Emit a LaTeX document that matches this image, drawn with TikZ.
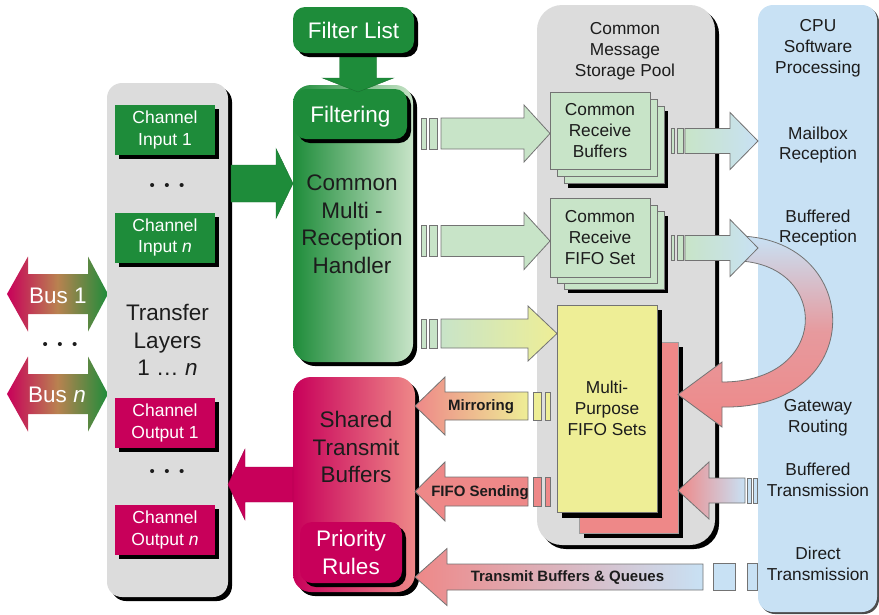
\documentclass[tikz,border=0pt]{standalone}
\usepackage{fontspec}
\setmainfont{Liberation Sans}
\usetikzlibrary{calc,shadows}

\definecolor{dgreen}{RGB}{30,140,58}
\definecolor{pgreen}{RGB}{200,228,200}
\definecolor{magen}{RGB}{200,0,90}
\definecolor{salmon}{RGB}{238,136,136}
\definecolor{pyellow}{RGB}{238,238,150}
\definecolor{pblue}{RGB}{200,225,244}
\definecolor{panelgray}{RGB}{220,220,220}
\definecolor{edgegray}{RGB}{115,115,115}
\definecolor{ink}{RGB}{28,28,28}
\definecolor{busmid}{RGB}{185,130,80}

% block arrows: style, tail, tip, half shaft width, half head width, head length
\newcommand{\arrowR}[6]{%
  \path[#1] let \p1=#2, \p2=#3 in
    (\x1,\y1-#4) -- (\x2-#6,\y1-#4) -- (\x2-#6,\y1-#5) -- (\x2,\y1)
    -- (\x2-#6,\y1+#5) -- (\x2-#6,\y1+#4) -- (\x1,\y1+#4) -- cycle;}
\newcommand{\arrowL}[6]{%
  \path[#1] let \p1=#2, \p2=#3 in
    (\x1,\y1-#4) -- (\x2+#6,\y1-#4) -- (\x2+#6,\y1-#5) -- (\x2,\y1)
    -- (\x2+#6,\y1+#5) -- (\x2+#6,\y1+#4) -- (\x1,\y1+#4) -- cycle;}
\newcommand{\arrowD}[6]{%
  \path[#1] let \p1=#2, \p2=#3 in
    (\x1-#4,\y1) -- (\x1-#4,\y2+#6) -- (\x1-#5,\y2+#6) -- (\x1,\y2)
    -- (\x1+#5,\y2+#6) -- (\x1+#4,\y2+#6) -- (\x1+#4,\y1) -- cycle;}

\begin{document}
\begin{tikzpicture}[x=1pt,y=-1pt,
  every node/.style={inner sep=0pt,outer sep=0pt,text=ink},
  shd/.style={drop shadow={shadow xshift=4pt,shadow yshift=-4pt,fill=black,opacity=1}},
  panel/.style={fill=panelgray,rounded corners=#1,shd},
  big/.style={font=\fontsize{22.5}{27.5}\selectfont,align=center},
  mid/.style={font=\fontsize{17.3}{20.8}\selectfont,align=center},
  chan/.style={font=\fontsize{17.5}{21.5}\selectfont,align=center},
  lbl/.style={font=\bfseries\fontsize{15}{18}\selectfont},
  chbox/.style={fill=#1,minimum width=100,minimum height=50,shd,text=white,chan},
  dotrow/.style={font=\fontsize{15}{15}\selectfont},
  stk/.style={fill=pgreen,draw=edgegray,line width=0.8pt},
  parrow/.style={draw=edgegray,line width=0.8pt},
  busarr/.style={left color=magen,right color=dgreen,middle color=busmid},
  bigarrow/.style={line width=0.4pt}]

\path[use as bounding box] (0,0) rectangle (879,614);

% ---- buses ----
\coordinate (b1) at (57.5,294);
\coordinate (bn) at (57.5,394);
\path[busarr,shift={(b1)}] (-50.5,0) -- (-29.5,-37.5) -- (-29.5,-20) -- (30.5,-20) -- (30.5,-37.5)
  -- (50.5,0) -- (30.5,37.5) -- (30.5,20) -- (-29.5,20) -- (-29.5,37.5) -- cycle;
\path[busarr,shift={(bn)}] (-50.5,0) -- (-29.5,-37.5) -- (-29.5,-20) -- (30.5,-20) -- (30.5,-37.5)
  -- (50.5,0) -- (30.5,37.5) -- (30.5,20) -- (-29.5,20) -- (-29.5,37.5) -- cycle;
\node[big,text=white] (bus1) at (58,295.5) {Bus 1};
\node[big,text=white] (busn) at (57,395) {Bus \textit{n}};
\node[dotrow] (busdots) at (60,346) {\textbullet\hspace{9.5pt}\textbullet\hspace{9.5pt}\textbullet};

% ---- transfer layers ----
\node[panel=15pt,minimum width=121,minimum height=514,big] (trans) at (167.5,340)
  {Transfer\\Layers\\1 … \textit{n}};
\node[chbox=dgreen] (cin1) at (165,130) {Channel\\Input 1};
\node[dotrow] (indots) at (167,187) {\textbullet\hspace{9.5pt}\textbullet\hspace{9.5pt}\textbullet};
\node[chbox=dgreen] (cinn) at (165,237.5) {Channel\\Input \textit{n}};
\node[chbox=magen] (cout1) at (165,423) {Channel\\Output 1};
\node[dotrow] (outdots) at (167,473) {\textbullet\hspace{9.5pt}\textbullet\hspace{9.5pt}\textbullet};
\node[chbox=magen] (coutn) at (165,530) {Channel\\Output \textit{n}};

% ---- storage pool and CPU panels ----
\node[panel=25pt,minimum width=178,minimum height=540] (pool) at (626,275) {};
\node[mid] (pooltxt) at (625,51) {Common\\Message\\Storage Pool};
\node[fill=pblue,rounded corners=15pt,minimum width=119,minimum height=607,
  drop shadow={shadow xshift=2pt,shadow yshift=-2pt,fill=black!70,opacity=1}] (cpu) at (817.5,308.5) {};

% ---- handler ----
\node[left color=dgreen,right color=pgreen,rounded corners=18pt,minimum width=120,minimum height=277,shd] (hdl) at (353,223.5) {};
\node[big] (hdltxt) at (352,224) {Common\\Multi -\\Reception\\Handler};
\node[fill=dgreen,rounded corners=12pt,minimum width=113,minimum height=50,shd,text=white,big,text depth=0pt] (filt) at (350.5,114) {Filtering};
\arrowD{fill=dgreen,draw=dgreen!80!black,bigarrow}{([xshift=5pt,yshift=35pt]hdl.north)}{([xshift=5pt,yshift=-7pt]hdl.north)}{18.5pt}{35.5pt}{14pt}
\node[fill=dgreen,rounded corners=12pt,minimum width=121,minimum height=46,shd,text=white,big,text depth=0pt] (flist) at (353.5,30) {Filter List};

% ---- shared transmit buffers ----
\node[left color=magen,right color=salmon,rounded corners=18pt,minimum width=122,minimum height=215,shd] (stb) at (354,484.5) {};
\node[big] (stbtxt) at (356,447) {Shared\\Transmit\\Buffers};
\node[fill=magen,rounded corners=12pt,minimum width=102,minimum height=61,shd,text=white,big] (prio) at (351,552.5) {Priority\\Rules};

% ---- big arrows between transfer layers and handlers ----
\arrowR{fill=dgreen,draw=dgreen!80!black,bigarrow}{(231,183.5)}{(hdl.west)}{18.5pt}{35pt}{17pt}
\arrowL{fill=magen,draw=magen!80!black,bigarrow}{(293,484.5)}{(trans.east)}{17.5pt}{35.5pt}{17pt}

% ---- receive buffers (stacked) ----
\fill[black] (568,111) rectangle (668,188);
\draw[stk] (564,106) rectangle (664,183);
\draw[stk] (557,99) rectangle (657,176);
\node[stk,minimum width=100,minimum height=77,mid] (crb) at (600,130.5) {Common\\Receive\\Buffers};

\fill[black] (568,216) rectangle (668,293);
\draw[stk] (564,211) rectangle (664,289);
\draw[stk] (557,205) rectangle (657,283);
\node[stk,minimum width=100,minimum height=79,mid] (crf) at (600,237.5) {Common\\Receive\\FIFO Set};

% ---- multi-purpose FIFO sets ----
\fill[black] (584,347) rectangle (683,538);
\node[fill=salmon,draw=edgegray!70,line width=0.6pt,minimum width=99,minimum height=191] (mps) at (628.5,437.5) {};
\fill[black] (562,310) rectangle (662,518);
\node[fill=pyellow,draw=edgegray,line width=0.6pt,minimum width=100,minimum height=207,mid] (mpy) at (607,408.5) {Multi-\\Purpose\\FIFO Sets};

% ---- arrows from the handler ----
\draw[parrow,fill=pgreen] (421,118) rectangle (426,149);
\draw[parrow,fill=pgreen] (429,118) rectangle (437,149);
\arrowR{parrow,fill=pgreen}{(441,133.5)}{(crb.west)}{15.5pt}{28.5pt}{26pt}
\draw[parrow,fill=pgreen] (421,225.5) rectangle (426,256.5);
\draw[parrow,fill=pgreen] (429,225.5) rectangle (437,256.5);
\arrowR{parrow,fill=pgreen}{(441,241)}{(crf.west)}{15.5pt}{28.5pt}{26pt}
\draw[parrow,fill=pgreen] (421,319) rectangle (426,348);
\draw[parrow,fill=pgreen] (429,319) rectangle (437,348);
\arrowR{parrow,left color=pgreen,right color=pyellow}{(441,333.5)}{(mpy.west)}{14.5pt}{27.5pt}{29pt}

% ---- gateway routing loop ----
\shade[top color=pblue,bottom color=salmon,middle color=salmon!80!pblue]
  (740,236) .. controls (865,240) and (868,410) .. (722,407) -- (722,427) -- ([yshift=43pt]mps.east)
  -- (722,362) -- (722,382) .. controls (830,382) and (830,266) .. (740,261) -- cycle;
\draw[parrow]
  (740,236) .. controls (865,240) and (868,410) .. (722,407) -- (722,427) -- ([yshift=43pt]mps.east)
  -- (722,362) -- (722,382) .. controls (830,382) and (830,266) .. (740,261);

% ---- arrows to the CPU ----
\draw[parrow,fill=pgreen] (671,128.5) rectangle (674,153.5);
\draw[parrow,fill=pgreen] (677,128.5) rectangle (683,153.5);
\arrowR{parrow,left color=pgreen,right color=pblue}{(685,141)}{(cpu.west)}{12.5pt}{28.5pt}{28pt}
\draw[parrow,fill=pgreen] (671,235.5) rectangle (674,260.5);
\draw[parrow,fill=pgreen] (677,235.5) rectangle (683,260.5);
\arrowR{parrow,left color=pgreen,right color=pblue}{(685,248)}{(cpu.west)}{12.5pt}{28.5pt}{28pt}

% ---- transmit side arrows ----
\arrowL{parrow,left color=salmon,right color=pblue}{(745,490.5)}{(mps.east)}{12.5pt}{28.5pt}{31pt}
\draw[parrow,fill=pblue] (747,478) rectangle (751,503);
\draw[parrow,fill=pblue] (753,478) rectangle (757,503);

\arrowL{parrow,left color=salmon,right color=pyellow}{(528,406)}{(stb.east)}{14pt}{29pt}{30pt}
\draw[parrow,fill=pyellow] (533,392) rectangle (541,420);
\draw[parrow,fill=pyellow] (545,392) rectangle (550,420);
\node[lbl] (mirr) at (481,406.5) {Mirroring};

\arrowL{parrow,fill=salmon}{(528,491.5)}{(stb.east)}{14.5pt}{29.5pt}{30pt}
\draw[parrow,fill=salmon] (533,477) rectangle (541,506);
\draw[parrow,fill=salmon] (545,477) rectangle (550,506);
\node[lbl] (fifos) at (480,493) {FIFO Sending};

\arrowL{parrow,left color=salmon,right color=pblue}{(703,577)}{(stb.east)}{13pt}{28.5pt}{32pt}
\draw[parrow,fill=pblue] (713,563) rectangle (735,590);
\draw[parrow,fill=pblue] (747,563) rectangle (757,590);
\node[lbl] (tbq) at (567.5,578) {Transmit Buffers \& Queues};

% ---- CPU labels ----
\node[mid] (cputxt) at (818,48.5) {CPU\\Software\\Processing};
\node[mid] (mbx) at (818,145) {Mailbox\\Reception};
\node[mid] (bfr) at (818,228) {Buffered\\Reception};
\node[mid] (gwr) at (818,418) {Gateway\\Routing};
\node[mid] (bft) at (818,479.5) {Buffered\\Transmission};
\node[mid] (dtx) at (818,564) {Direct\\Transmission};
\end{tikzpicture}
\end{document}
